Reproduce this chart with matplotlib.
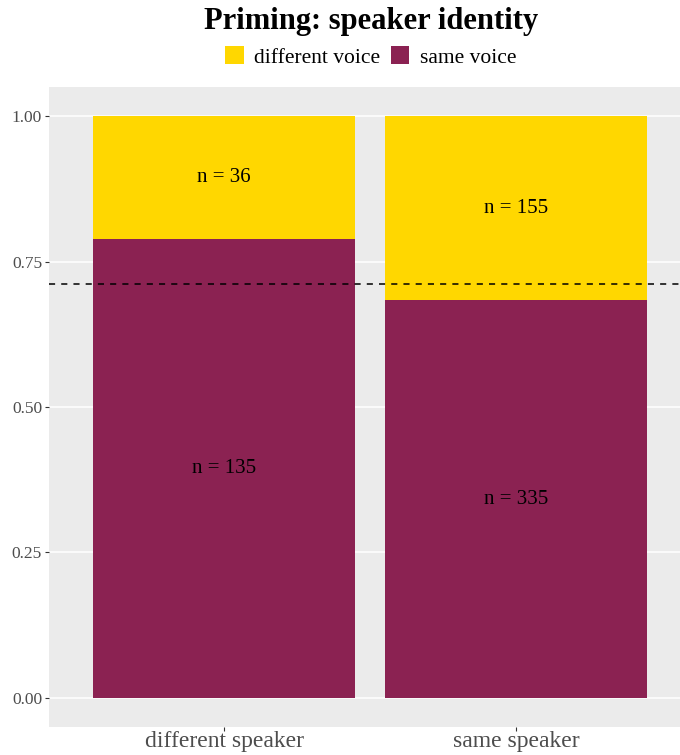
import matplotlib
matplotlib.use("Agg")
import matplotlib.pyplot as plt
from matplotlib.patches import Patch

plt.rcParams['font.family'] = ['Liberation Serif', 'DejaVu Serif']

categories = ["different speaker", "same speaker"]
same_voice = [135, 335]
different_voice = [36, 155]
series_names = ["different voice", "same voice"]
colors = {"different voice": "#FFD700", "same voice": "#8B2252"}
yticks = [0.00, 0.25, 0.50, 0.75, 1.00]
ytick_labels = ["0.00", "0.25", "0.50", "0.75", "1.00"]

totals = [s + d for s, d in zip(same_voice, different_voice)]
p_same = [s / t for s, t in zip(same_voice, totals)]
p_diff = [d / t for d, t in zip(different_voice, totals)]
overall = sum(same_voice) / sum(totals)

fig = plt.figure(figsize=(6.8, 7.55), dpi=100)
ax = fig.add_axes([49/680, 1-727/755, 642/680, 640/755])
ax.set_facecolor("#EBEBEB")
x = list(range(len(categories)))

ax.bar(x, p_same, width=0.9, color=colors["same voice"], zorder=2)
ax.bar(x, p_diff, bottom=p_same, width=0.9, color=colors["different voice"], zorder=2)

for i in x:
    ax.text(i, p_same[i] / 2, f"n = {same_voice[i]}", ha="center", va="center",
            fontsize=15, color="black", zorder=4)
    ax.text(i, p_same[i] + p_diff[i] / 2, f"n = {different_voice[i]}", ha="center",
            va="center", fontsize=15, color="black", zorder=4)

ax.axhline(overall, color="black", linestyle=(0, (4, 4)), linewidth=1.1, zorder=3)

ax.set_xlim(-0.6, 1.6)
ax.set_ylim(-0.05, 1.05)
ax.set_yticks(yticks)
ax.set_yticklabels(ytick_labels)
ax.set_xticks(x)
ax.set_xticklabels(categories)
ax.grid(axis="y", color="white", linewidth=1.1, zorder=1)
ax.set_axisbelow(True)
for s in ax.spines.values():
    s.set_visible(False)
ax.tick_params(axis="y", colors="#333333", labelcolor="#4D4D4D", labelsize=12.5, length=3, width=0.8, pad=2)
ax.tick_params(axis="x", colors="#333333", labelcolor="#4D4D4D", labelsize=17, length=3, width=0.8, pad=0)

cx = 371 / 680
fig.text(cx, 1-21/755, "Priming: speaker identity", ha="center", va="center",
         fontsize=22, fontweight="bold")
handles = [Patch(facecolor=colors[n], edgecolor="none") for n in series_names]
fig.legend(handles, series_names, loc="center", bbox_to_anchor=(cx, 1-57/755), ncol=2,
           frameon=False, fontsize=15.5, handlelength=0.85, handleheight=0.85,
           handletextpad=0.5, columnspacing=0.5, borderaxespad=0)

fig.savefig("out.png", dpi=100)
